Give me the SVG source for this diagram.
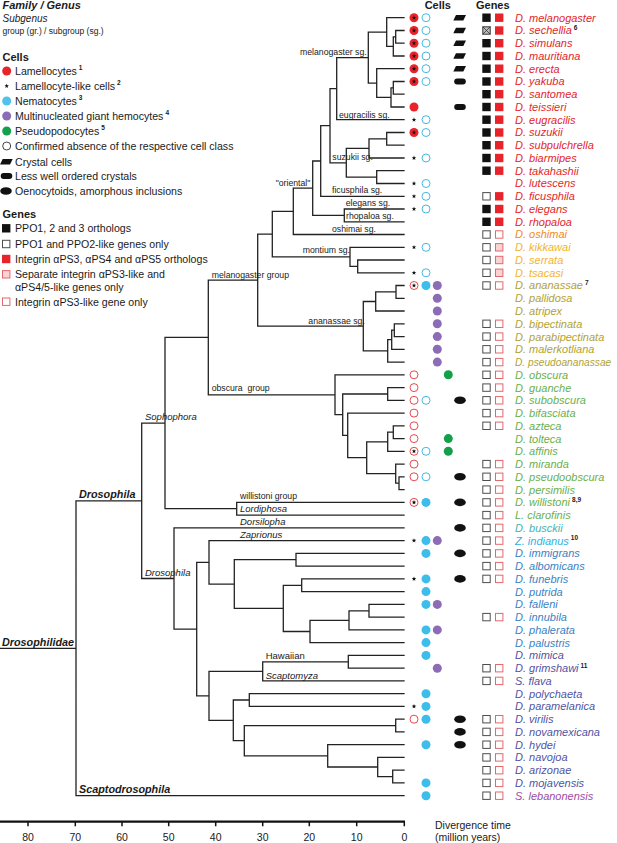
<svg xmlns="http://www.w3.org/2000/svg" width="617" height="843" viewBox="0 0 617 843">
<style>
text{font-family:"Liberation Sans",Arial,Helvetica,sans-serif;fill:#1a1a1a}
.t{fill:none;stroke:#222;stroke-width:1.3;stroke-linecap:square}
.lb{font-size:8.7px}
.li{font-size:9.5px;font-style:italic}
.bi{font-size:10.8px;font-style:italic;font-weight:bold}
.sp{font-size:11px;font-style:italic}
.sup{font-size:6.5px;font-weight:bold;font-style:normal;fill:#1a1a1a}
.lg{font-size:10.6px}
.hd{font-size:11px;font-weight:bold}
.ax{font-size:10.5px}
.c1{fill:#e3262b}.c2{fill:#ef8a22}.c3{fill:#f4b330}.c4{fill:#b2a233}.c5{fill:#6ab04c}
.c6{fill:#46b3b0}.c7{fill:#2cb2e3}.c8{fill:#3a82c3}.c9{fill:#5153a3}.c10{fill:#a04c9f}
</style>
<defs>
<circle id="rf" r="4.5" fill="#e8232a"/>
<circle id="ro" r="4" fill="#fff" stroke="#e64a4f" stroke-width="1"/>
<circle id="bo" r="4" fill="#fff" stroke="#45b9e3" stroke-width="1"/>
<circle id="bf" r="4.5" fill="#3dbde9"/>
<circle id="pu" r="4.5" fill="#8c6cb6"/>
<circle id="gn" r="4.5" fill="#14a04b"/>
<path id="st" fill="#111" d="M0,-2.4L0.588,-0.809L2.283,-0.742L0.951,0.309L1.411,1.942L0,1L-1.411,1.942L-0.951,0.309L-2.283,-0.742L-0.588,-0.809Z"/>
<polygon id="cc" fill="#111" points="-4,-2.7 6,-2.7 3.3,2.7 -6.7,2.7"/>
<rect id="lc" x="-5.8" y="-3" width="11.6" height="6" rx="3" fill="#111"/>
<ellipse id="oe" rx="5.8" ry="3.8" fill="#111"/>
<rect id="b1" x="0" y="-4.2" width="8.4" height="8.4" fill="#111"/>
<rect id="b0" x="0.5" y="-3.7" width="7.4" height="7.4" fill="#fff" stroke="#4d4d4d"/>
<rect id="r1" x="0" y="-4.2" width="8.4" height="8.4" fill="#e8232a"/>
<rect id="r3" x="0.5" y="-3.7" width="7.4" height="7.4" fill="#f9d4d5" stroke="#e4676b"/>
<rect id="r0" x="0.5" y="-3.7" width="7.4" height="7.4" fill="#fff" stroke="#e4676b"/>
</defs>
<rect width="617" height="843" fill="#fff"/>

<g id="legend">
<text class="hd" x="2.5" y="8.8" font-style="italic">Family / Genus</text>
<text x="2.5" y="22.3" style="font-size:10px;font-style:italic">Subgenus</text>
<text x="2.5" y="34" style="font-size:8.5px">group (gr.) / subgroup (sg.)</text>
<text class="hd" x="2.5" y="60.5">Cells</text>
<use href="#rf" x="6.7" y="71"/><text class="lg" x="15" y="74.8">Lamellocytes<tspan class="sup" dx="2" dy="-4.5">1</tspan></text>
<use href="#st" x="6.7" y="86"/><text class="lg" x="15" y="89.8">Lamellocyte-like cells<tspan class="sup" dx="2" dy="-4.5">2</tspan></text>
<circle cx="6.7" cy="101" r="4.5" fill="#4fc3ea"/><text class="lg" x="15" y="104.8">Nematocytes<tspan class="sup" dx="2" dy="-4.5">3</tspan></text>
<use href="#pu" x="6.7" y="116"/><text class="lg" x="15" y="119.8">Multinucleated giant hemocytes<tspan class="sup" dx="2" dy="-4.5">4</tspan></text>
<use href="#gn" x="6.7" y="131"/><text class="lg" x="15" y="134.8">Pseudopodocytes<tspan class="sup" dx="2" dy="-4.5">5</tspan></text>
<circle cx="6.7" cy="146" r="4" fill="#fff" stroke="#444"/><text class="lg" x="15" y="149.8">Confirmed absence of the respective cell class</text>
<use href="#cc" x="6.7" y="161.7"/><text class="lg" x="15" y="165.5">Crystal cells</text>
<use href="#lc" x="6.5" y="176"/><text class="lg" x="15" y="179.8">Less well ordered crystals</text>
<use href="#oe" x="6" y="191"/><text class="lg" x="15" y="194.8">Oenocytoids, amorphous inclusions</text>
<text class="hd" x="2.5" y="218">Genes</text>
<use href="#b1" x="2" y="228.3"/><text class="lg" x="15" y="232.1">PPO1, 2 and 3 orthologs</text>
<use href="#b0" x="2" y="244"/><text class="lg" x="15" y="247.8">PPO1 and PPO2-like genes only</text>
<use href="#r1" x="2" y="259"/><text class="lg" x="15" y="262.8">Integrin αPS3, αPS4 and αPS5 orthologs</text>
<use href="#r3" x="2" y="274.3"/><text class="lg" x="15" y="278.1">Separate integrin αPS3-like and</text><text class="lg" x="15" y="290.5">αPS4/5-like genes only</text>
<use href="#r0" x="2" y="301.7"/><text class="lg" x="15" y="305.5">Integrin αPS3-like gene only</text>
</g>

<g id="headers">
<text class="hd" x="437.8" y="8.5" text-anchor="middle">Cells</text>
<text class="hd" x="492.8" y="8.5" text-anchor="middle">Genes</text>
</g>

<g id="connectors">
<path class="t" d="M395.7,30.5V43.2M395.7,30.5H404M395.7,43.2H404
M393.3,36.8V56M393.3,36.8H395.7M393.3,56H404
M386.7,17.7V46.4M386.7,17.7H404M386.7,46.4H393.3
M393.3,81.5V94.2M393.3,81.5H404M393.3,94.2H404
M391,87.9V107M391,87.9H393.3M391,107H404
M376.7,68.7V97.4M376.7,68.7H404M376.7,97.4H391
M368.3,32.1V83.1M368.3,32.1H386.7M368.3,83.1H376.7
M336.7,57.6V119.7M336.7,57.6H368.3M336.7,119.7H404
M386.7,132.5V145.2M386.7,132.5H404M386.7,145.2H404
M369,138.9V158M369,138.9H386.7M369,158H404
M376.7,170.7V183.5M376.7,170.7H404M376.7,183.5H404
M346.3,148.4V177.1M346.3,148.4H369M346.3,177.1H376.7
M330,88.7V162.8M330,88.7H336.7M330,162.8H346.3
M320.7,125.7V196.3M320.7,125.7H330M320.7,196.3H404
M344.3,209V221.8M344.3,209H404M344.3,221.8H404
M312.7,161V215.4M312.7,161H320.7M312.7,215.4H344.3
M293.3,188.2V234.5M293.3,188.2H312.7M293.3,234.5H404
M357.7,260V272.8M357.7,260H404M357.7,272.8H404
M350,247.3V266.4M350,247.3H404M350,266.4H357.7
M272.3,211.4V256.8M272.3,211.4H293.3M272.3,256.8H350
M396,285.5V298.3M396,285.5H404M396,298.3H404
M375.7,291.9V311M375.7,291.9H396M375.7,311H404
M394.3,323.8V336.6M394.3,323.8H404M394.3,336.6H404
M391.7,330.2V349.3M391.7,330.2H394.3M391.7,349.3H404
M387.7,339.7V362.1M387.7,339.7H391.7M387.7,362.1H404
M363.3,301.5V350.9M363.3,301.5H375.7M363.3,350.9H387.7
M257.7,234.1V326.2M257.7,234.1H272.3M257.7,326.2H363.3
M387.7,387.6V400.3M387.7,387.6H404M387.7,400.3H404
M393.3,425.8V438.6M393.3,425.8H404M393.3,438.6H404
M387.7,432.2V451.3M387.7,432.2H393.3M387.7,451.3H404
M399,476.8V489.6M399,476.8H404M399,489.6H404
M395.7,464.1V483.2M395.7,464.1H404M395.7,483.2H399
M366.7,441.8V473.7M366.7,441.8H387.7M366.7,473.7H395.7
M347.7,413.1V457.7M347.7,413.1H404M347.7,457.7H366.7
M342.7,394V435.4M342.7,394H387.7M342.7,435.4H347.7
M335,374.8V414.7M335,374.8H404M335,414.7H342.7
M208.3,280.1V394.8M208.3,280.1H257.7M208.3,394.8H335
M236.7,502.4V515.1M236.7,502.4H404M236.7,515.1H404
M165,337.4V508.7M165,337.4H208.3M165,508.7H236.7
M296,553.4V566.1M296,553.4H404M296,566.1H404
M301.7,578.9V591.6M301.7,578.9H404M301.7,591.6H404
M369,604.4V617.1M369,604.4H404M369,617.1H404
M349,610.8V629.9M349,610.8H369M349,629.9H404
M310,620.3V642.6M310,620.3H349M310,642.6H404
M283.3,585.3V631.5M283.3,585.3H301.7M283.3,631.5H310
M234.3,559.7V608.4M234.3,559.7H296M234.3,608.4H283.3
M209,540.6V584.1M209,540.6H404M209,584.1H234.3
M348.3,655.4V668.2M348.3,655.4H404M348.3,668.2H404
M262.7,661.8V680.9M262.7,661.8H348.3M262.7,680.9H404
M249.3,693.7V706.4M249.3,693.7H404M249.3,706.4H404
M395.7,719.2V731.9M395.7,719.2H404M395.7,731.9H404
M392.7,770.2V782.9M392.7,770.2H404M392.7,782.9H404
M377.7,757.4V776.6M377.7,757.4H404M377.7,776.6H392.7
M327.7,744.7V767M327.7,744.7H404M327.7,767H377.7
M244.3,725.6V755.8M244.3,725.6H395.7M244.3,755.8H327.7
M233.3,700V740.7M233.3,700H249.3M233.3,740.7H244.3
M209,671.3V720.4M209,671.3H262.7M209,720.4H233.3
M196.7,562.4V695.8M196.7,562.4H209M196.7,695.8H209
M174,527.9V629.1M174,527.9H404M174,629.1H196.7
M141.7,423.1V578.5M141.7,423.1H165M141.7,578.5H174
M76,500.8V795.7M76,500.8H141.7M76,795.7H404
M0,648.3H76"/>
</g>

<g id="clade-labels">
<text class="lb" x="300" y="55">melanogaster sg.</text>
<text class="lb" x="339" y="117.5">eugracilis sg.</text>
<text class="lb" x="332.3" y="160.3">suzukii sg.</text>
<text class="lb" x="332" y="193.3">ficusphila sg.</text>
<text class="lb" x="275.7" y="185.5">"oriental"</text>
<text class="lb" x="345.7" y="206">elegans sg.</text>
<text class="lb" x="346" y="219.3">rhopaloa sg.</text>
<text class="lb" x="332" y="232">oshimai sg.</text>
<text class="lb" x="302.7" y="253.3">montium sg.</text>
<text class="lb" x="211.7" y="277.7">melanogaster group</text>
<text class="lb" x="308.3" y="323.7">ananassae sg.</text>
<text class="lb" x="211.7" y="391.3">obscura&#160; group</text>
<text class="li" x="145" y="420">Sophophora</text>
<text class="lb" x="240" y="499.3">willistoni group</text>
<text class="li" x="240" y="512">Lordiphosa</text>
<text class="li" x="240" y="525">Dorsilopha</text>
<text class="li" x="240" y="537.5">Zaprionus</text>
<text class="bi" x="79" y="498">Drosophila</text>
<text class="li" x="145" y="575.5">Drosophila</text>
<text x="265.7" y="659" style="font-size:9.5px">Hawaiian</text>
<text class="li" x="265.7" y="678.5">Scaptomyza</text>
<text class="bi" x="2" y="645.5">Drosophilidae</text>
<text class="bi" x="79" y="793">Scaptodrosophila</text>
</g>

<g id="sp-melanogaster"><text class="sp c1" x="515" y="21.6">D. melanogaster</text><use href="#rf" x="414" y="17.7"/><use href="#st" x="414" y="17.7"/><use href="#bo" x="426" y="17.7"/><use href="#cc" x="460" y="17.7"/><use href="#b1" x="482.3" y="17.7"/><use href="#r1" x="495" y="17.7"/></g>
<g id="sp-sechellia"><text class="sp c1" x="515" y="34.4">D. sechellia<tspan class="sup" dx="2" dy="-4.5">6</tspan></text><use href="#rf" x="414" y="30.5"/><use href="#st" x="414" y="30.5"/><use href="#bo" x="426" y="30.5"/><use href="#cc" x="460" y="30.5"/><rect x="482.8" y="26.8" width="7.4" height="7.4" fill="#bdbdbd" stroke="#333"/><path d="M482.8,26.8l7.4,7.4m0,-7.4l-7.4,7.4" stroke="#333" stroke-width="0.8"/><use href="#r1" x="495" y="30.5"/></g>
<g id="sp-simulans"><text class="sp c1" x="515" y="47.1">D. simulans</text><use href="#rf" x="414" y="43.2"/><use href="#st" x="414" y="43.2"/><use href="#bo" x="426" y="43.2"/><use href="#cc" x="460" y="43.2"/><use href="#b1" x="482.3" y="43.2"/><use href="#r1" x="495" y="43.2"/></g>
<g id="sp-mauritiana"><text class="sp c1" x="515" y="59.9">D. mauritiana</text><use href="#rf" x="414" y="56"/><use href="#st" x="414" y="56"/><use href="#bo" x="426" y="56"/><use href="#cc" x="460" y="56"/><use href="#b1" x="482.3" y="56"/><use href="#r1" x="495" y="56"/></g>
<g id="sp-erecta"><text class="sp c1" x="515" y="72.6">D. erecta</text><use href="#rf" x="414" y="68.7"/><use href="#st" x="414" y="68.7"/><use href="#bo" x="426" y="68.7"/><use href="#cc" x="460" y="68.7"/><use href="#b1" x="482.3" y="68.7"/><use href="#r1" x="495" y="68.7"/></g>
<g id="sp-yakuba"><text class="sp c1" x="515" y="85.4">D. yakuba</text><use href="#rf" x="414" y="81.5"/><use href="#st" x="414" y="81.5"/><use href="#bo" x="426" y="81.5"/><use href="#lc" x="460" y="81.5"/><use href="#b1" x="482.3" y="81.5"/><use href="#r1" x="495" y="81.5"/></g>
<g id="sp-santomea"><text class="sp c1" x="515" y="98.1">D. santomea</text><use href="#b1" x="482.3" y="94.2"/><use href="#r1" x="495" y="94.2"/></g>
<g id="sp-teissieri"><text class="sp c1" x="515" y="110.9">D. teissieri</text><use href="#rf" x="414" y="107"/><use href="#lc" x="460" y="107"/><use href="#b1" x="482.3" y="107"/><use href="#r1" x="495" y="107"/></g>
<g id="sp-eugracilis"><text class="sp c1" x="515" y="123.6">D. eugracilis</text><use href="#st" x="414" y="119.7"/><use href="#bo" x="426" y="119.7"/><use href="#b1" x="482.3" y="119.7"/><use href="#r1" x="495" y="119.7"/></g>
<g id="sp-suzukii"><text class="sp c1" x="515" y="136.4">D. suzukii</text><use href="#rf" x="414" y="132.5"/><use href="#st" x="414" y="132.5"/><use href="#bo" x="426" y="132.5"/><use href="#b1" x="482.3" y="132.5"/><use href="#r1" x="495" y="132.5"/></g>
<g id="sp-subpulchrella"><text class="sp c1" x="515" y="149.1">D. subpulchrella</text><use href="#b1" x="482.3" y="145.2"/><use href="#r1" x="495" y="145.2"/></g>
<g id="sp-biarmipes"><text class="sp c1" x="515" y="161.9">D. biarmipes</text><use href="#st" x="414" y="158"/><use href="#bo" x="426" y="158"/><use href="#b1" x="482.3" y="158"/><use href="#r1" x="495" y="158"/></g>
<g id="sp-takahashii"><text class="sp c1" x="515" y="174.6">D. takahashii</text><use href="#b1" x="482.3" y="170.7"/><use href="#r1" x="495" y="170.7"/></g>
<g id="sp-lutescens"><text class="sp c1" x="515" y="187.4">D. lutescens</text><use href="#st" x="414" y="183.5"/><use href="#bo" x="426" y="183.5"/></g>
<g id="sp-ficusphila"><text class="sp c1" x="515" y="200.2">D. ficusphila</text><use href="#st" x="414" y="196.3"/><use href="#bo" x="426" y="196.3"/><use href="#b0" x="482.3" y="196.3"/><use href="#r1" x="495" y="196.3"/></g>
<g id="sp-elegans"><text class="sp c1" x="515" y="212.9">D. elegans</text><use href="#st" x="414" y="209"/><use href="#bo" x="426" y="209"/><use href="#b1" x="482.3" y="209"/><use href="#r1" x="495" y="209"/></g>
<g id="sp-rhopaloa"><text class="sp c1" x="515" y="225.7">D. rhopaloa</text><use href="#b1" x="482.3" y="221.8"/><use href="#r1" x="495" y="221.8"/></g>
<g id="sp-oshimai"><text class="sp c2" x="515" y="238.4">D. oshimai</text><use href="#b0" x="482.3" y="234.5"/><use href="#r0" x="495" y="234.5"/></g>
<g id="sp-kikkawai"><text class="sp c3" x="515" y="251.2">D. kikkawai</text><use href="#st" x="414" y="247.3"/><use href="#bo" x="426" y="247.3"/><use href="#b0" x="482.3" y="247.3"/><use href="#r3" x="495" y="247.3"/></g>
<g id="sp-serrata"><text class="sp c3" x="515" y="263.9">D. serrata</text><use href="#b0" x="482.3" y="260"/><use href="#r3" x="495" y="260"/></g>
<g id="sp-tsacasi"><text class="sp c3" x="515" y="276.7">D. tsacasi</text><use href="#st" x="414" y="272.8"/><use href="#bo" x="426" y="272.8"/><use href="#b0" x="482.3" y="272.8"/><use href="#r3" x="495" y="272.8"/></g>
<g id="sp-ananassae"><text class="sp c4" x="515" y="289.4">D. ananassae<tspan class="sup" dx="2" dy="-4.5">7</tspan></text><use href="#ro" x="414" y="285.5"/><use href="#st" x="414" y="285.5"/><use href="#bf" x="426" y="285.5"/><use href="#pu" x="437.3" y="285.5"/><use href="#b0" x="482.3" y="285.5"/><use href="#r0" x="495" y="285.5"/></g>
<g id="sp-pallidosa"><text class="sp c4" x="515" y="302.2">D. pallidosa</text><use href="#pu" x="437.3" y="298.3"/></g>
<g id="sp-atripex"><text class="sp c4" x="515" y="314.9">D. atripex</text><use href="#pu" x="437.3" y="311"/></g>
<g id="sp-bipectinata"><text class="sp c4" x="515" y="327.7">D. bipectinata</text><use href="#pu" x="437.3" y="323.8"/><use href="#b0" x="482.3" y="323.8"/><use href="#r0" x="495" y="323.8"/></g>
<g id="sp-parabipectinata"><text class="sp c4" x="515" y="340.5">D. parabipectinata</text><use href="#pu" x="437.3" y="336.6"/><use href="#b0" x="482.3" y="336.6"/><use href="#r0" x="495" y="336.6"/></g>
<g id="sp-malerkotliana"><text class="sp c4" x="515" y="353.2">D. malerkotliana</text><use href="#pu" x="437.3" y="349.3"/><use href="#b0" x="482.3" y="349.3"/><use href="#r0" x="495" y="349.3"/></g>
<g id="sp-pseudoananassae"><text class="sp c4" x="515" y="366" style="font-size:10.2px">D. pseudoananassae</text><use href="#pu" x="437.3" y="362.1"/><use href="#b0" x="482.3" y="362.1"/><use href="#r0" x="495" y="362.1"/></g>
<g id="sp-obscura"><text class="sp c5" x="515" y="378.7">D. obscura</text><use href="#ro" x="414" y="374.8"/><use href="#gn" x="448.3" y="374.8"/><use href="#b0" x="482.3" y="374.8"/><use href="#r0" x="495" y="374.8"/></g>
<g id="sp-guanche"><text class="sp c5" x="515" y="391.5">D. guanche</text><use href="#ro" x="414" y="387.6"/><use href="#b0" x="482.3" y="387.6"/><use href="#r0" x="495" y="387.6"/></g>
<g id="sp-subobscura"><text class="sp c5" x="515" y="404.2">D. subobscura</text><use href="#ro" x="414" y="400.3"/><use href="#bo" x="426" y="400.3"/><use href="#oe" x="460" y="400.3"/><use href="#b0" x="482.3" y="400.3"/><use href="#r0" x="495" y="400.3"/></g>
<g id="sp-bifasciata"><text class="sp c5" x="515" y="417">D. bifasciata</text><use href="#ro" x="414" y="413.1"/><use href="#b0" x="482.3" y="413.1"/><use href="#r0" x="495" y="413.1"/></g>
<g id="sp-azteca"><text class="sp c5" x="515" y="429.7">D. azteca</text><use href="#ro" x="414" y="425.8"/><use href="#b0" x="482.3" y="425.8"/><use href="#r0" x="495" y="425.8"/></g>
<g id="sp-tolteca"><text class="sp c5" x="515" y="442.5">D. tolteca</text><use href="#ro" x="414" y="438.6"/><use href="#gn" x="448.3" y="438.6"/></g>
<g id="sp-affinis"><text class="sp c5" x="515" y="455.2">D. affinis</text><use href="#ro" x="414" y="451.3"/><use href="#st" x="414" y="451.3"/><use href="#bo" x="426" y="451.3"/><use href="#gn" x="448.3" y="451.3"/></g>
<g id="sp-miranda"><text class="sp c5" x="515" y="468">D. miranda</text><use href="#ro" x="414" y="464.1"/><use href="#b0" x="482.3" y="464.1"/><use href="#r0" x="495" y="464.1"/></g>
<g id="sp-pseudoobscura"><text class="sp c5" x="515" y="480.7">D. pseudoobscura</text><use href="#ro" x="414" y="476.8"/><use href="#bo" x="426" y="476.8"/><use href="#oe" x="460" y="476.8"/><use href="#b0" x="482.3" y="476.8"/><use href="#r0" x="495" y="476.8"/></g>
<g id="sp-persimilis"><text class="sp c5" x="515" y="493.5">D. persimilis</text><use href="#b0" x="482.3" y="489.6"/><use href="#r0" x="495" y="489.6"/></g>
<g id="sp-willistoni"><text class="sp c5" x="515" y="506.3">D. willistoni<tspan class="sup" dx="2" dy="-4.5">8,9</tspan></text><use href="#ro" x="414" y="502.4"/><use href="#st" x="414" y="502.4"/><use href="#bf" x="426" y="502.4"/><use href="#oe" x="460" y="502.4"/><use href="#b0" x="482.3" y="502.4"/><use href="#r0" x="495" y="502.4"/></g>
<g id="sp-clarofinis"><text class="sp c5" x="515" y="519">L. clarofinis</text><use href="#b0" x="482.3" y="515.1"/><use href="#r0" x="495" y="515.1"/></g>
<g id="sp-busckii"><text class="sp c6" x="515" y="531.8">D. busckii</text><use href="#oe" x="460" y="527.9"/><use href="#b0" x="482.3" y="527.9"/><use href="#r0" x="495" y="527.9"/></g>
<g id="sp-indianus"><text class="sp c7" x="515" y="544.5">Z. indianus<tspan class="sup" dx="2" dy="-4.5">10</tspan></text><use href="#st" x="414" y="540.6"/><use href="#bf" x="426" y="540.6"/><use href="#pu" x="437.3" y="540.6"/><use href="#b0" x="482.3" y="540.6"/><use href="#r0" x="495" y="540.6"/></g>
<g id="sp-immigrans"><text class="sp c8" x="515" y="557.3">D. immigrans</text><use href="#bf" x="426" y="553.4"/><use href="#oe" x="460" y="553.4"/><use href="#b0" x="482.3" y="553.4"/><use href="#r0" x="495" y="553.4"/></g>
<g id="sp-albomicans"><text class="sp c8" x="515" y="570">D. albomicans</text><use href="#b0" x="482.3" y="566.1"/><use href="#r0" x="495" y="566.1"/></g>
<g id="sp-funebris"><text class="sp c8" x="515" y="582.8">D. funebris</text><use href="#st" x="414" y="578.9"/><use href="#bf" x="426" y="578.9"/><use href="#oe" x="460" y="578.9"/><use href="#b0" x="482.3" y="578.9"/><use href="#r0" x="495" y="578.9"/></g>
<g id="sp-putrida"><text class="sp c8" x="515" y="595.5">D. putrida</text><use href="#bf" x="426" y="591.6"/></g>
<g id="sp-falleni"><text class="sp c8" x="515" y="608.3">D. falleni</text><use href="#bf" x="426" y="604.4"/><use href="#pu" x="437.3" y="604.4"/></g>
<g id="sp-innubila"><text class="sp c8" x="515" y="621">D. innubila</text><use href="#b0" x="482.3" y="617.1"/><use href="#r0" x="495" y="617.1"/></g>
<g id="sp-phalerata"><text class="sp c8" x="515" y="633.8">D. phalerata</text><use href="#bf" x="426" y="629.9"/><use href="#pu" x="437.3" y="629.9"/></g>
<g id="sp-palustris"><text class="sp c8" x="515" y="646.5">D. palustris</text><use href="#bf" x="426" y="642.6"/></g>
<g id="sp-mimica"><text class="sp c9" x="515" y="659.3">D. mimica</text><use href="#bf" x="426" y="655.4"/></g>
<g id="sp-grimshawi"><text class="sp c9" x="515" y="672.1">D. grimshawi<tspan class="sup" dx="2" dy="-4.5">11</tspan></text><use href="#pu" x="437.3" y="668.2"/><use href="#b0" x="482.3" y="668.2"/><use href="#r0" x="495" y="668.2"/></g>
<g id="sp-flava"><text class="sp c9" x="515" y="684.8">S. flava</text><use href="#b0" x="482.3" y="680.9"/><use href="#r0" x="495" y="680.9"/></g>
<g id="sp-polychaeta"><text class="sp c9" x="515" y="697.6">D. polychaeta</text><use href="#bf" x="426" y="693.7"/></g>
<g id="sp-paramelanica"><text class="sp c9" x="515" y="710.3">D. paramelanica</text><use href="#st" x="414" y="706.4"/><use href="#bf" x="426" y="706.4"/></g>
<g id="sp-virilis"><text class="sp c9" x="515" y="723.1">D. virilis</text><use href="#ro" x="414" y="719.2"/><use href="#bf" x="426" y="719.2"/><use href="#oe" x="460" y="719.2"/><use href="#b0" x="482.3" y="719.2"/><use href="#r0" x="495" y="719.2"/></g>
<g id="sp-novamexicana"><text class="sp c9" x="515" y="735.8">D. novamexicana</text><use href="#oe" x="460" y="731.9"/><use href="#b0" x="482.3" y="731.9"/><use href="#r0" x="495" y="731.9"/></g>
<g id="sp-hydei"><text class="sp c9" x="515" y="748.6">D. hydei</text><use href="#bf" x="426" y="744.7"/><use href="#oe" x="460" y="744.7"/><use href="#b0" x="482.3" y="744.7"/><use href="#r0" x="495" y="744.7"/></g>
<g id="sp-navojoa"><text class="sp c9" x="515" y="761.3">D. navojoa</text><use href="#b0" x="482.3" y="757.4"/><use href="#r0" x="495" y="757.4"/></g>
<g id="sp-arizonae"><text class="sp c9" x="515" y="774.1">D. arizonae</text><use href="#b0" x="482.3" y="770.2"/><use href="#r0" x="495" y="770.2"/></g>
<g id="sp-mojavensis"><text class="sp c9" x="515" y="786.8">D. mojavensis</text><use href="#bf" x="426" y="782.9"/><use href="#b0" x="482.3" y="782.9"/><use href="#r0" x="495" y="782.9"/></g>
<g id="sp-lebanonensis"><text class="sp c10" x="515" y="799.6">S. lebanonensis</text><use href="#bf" x="426" y="795.7"/><use href="#b0" x="482.3" y="795.7"/><use href="#r0" x="495" y="795.7"/></g>

<g id="axis">
<path d="M0,821.7H405" stroke="#111" stroke-width="2.2" fill="none"/>
<path d="M28,821.7v4.5M75.3,821.7v4.5M122,821.7v4.5M168.7,821.7v4.5M215.7,821.7v4.5M262.7,821.7v4.5M309.3,821.7v4.5M356.7,821.7v4.5M404.3,821.7v4.5" stroke="#111" stroke-width="1.5" fill="none"/>
<g class="ax" text-anchor="middle">
<text class="ax" x="28" y="841.3">80</text>
<text class="ax" x="75.3" y="841.3">70</text>
<text class="ax" x="122" y="841.3">60</text>
<text class="ax" x="168.7" y="841.3">50</text>
<text class="ax" x="215.7" y="841.3">40</text>
<text class="ax" x="262.7" y="841.3">30</text>
<text class="ax" x="309.3" y="841.3">20</text>
<text class="ax" x="356.7" y="841.3">10</text>
<text class="ax" x="404.3" y="841.3">0</text>
</g>
<text class="ax" x="435" y="829">Divergence time</text>
<text class="ax" x="435" y="840.5">(million years)</text>
</g>
</svg>
